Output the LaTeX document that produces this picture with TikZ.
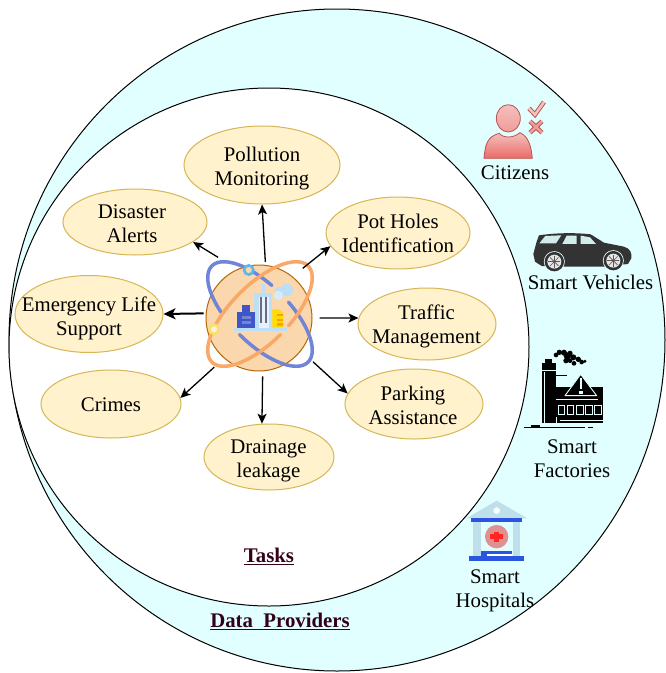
\documentclass[tikz,border=0pt]{standalone}
\usepackage{fontspec}
\setmainfont{Liberation Serif}
\usetikzlibrary{shapes.geometric,arrows.meta}
\definecolor{ringfill}{HTML}{E1FFFF}
\definecolor{taskfill}{HTML}{FFF2CC}
\definecolor{taskline}{HTML}{D6B656}
\definecolor{hubfill}{HTML}{FAD7AC}
\definecolor{hubline}{HTML}{B46504}
\definecolor{orbitblue}{HTML}{7084D8}
\definecolor{orbitorange}{HTML}{F9A868}
\definecolor{headtext}{HTML}{33001A}
\definecolor{pale}{HTML}{BCDFF5}
\definecolor{bldblue}{HTML}{3F55C8}
\definecolor{redline}{HTML}{B85450}
\definecolor{hospblue}{HTML}{2A55E0}
\definecolor{hosppale}{HTML}{BFE0EA}
\definecolor{ringblue}{HTML}{5CB8EA}
\definecolor{ringyellow}{HTML}{F8E26A}
\definecolor{bardark}{HTML}{6D6A80}
\definecolor{bodytop}{HTML}{F5C0BE}
\definecolor{bodybot}{HTML}{EA6B66}
\definecolor{headbot}{HTML}{EE9C9A}
\tikzset{
  ring/.style={ellipse,draw=black,line width=1pt,inner sep=0pt},
  taskshape/.style={ellipse,draw=taskline,fill=taskfill,line width=1pt,inner sep=0pt},
  lbl/.style={align=center,inner sep=0pt,font=\fontsize{20.8}{24}\selectfont},
  headlbl/.style={inner sep=0pt,text=headtext,font=\fontsize{20.8}{24}\selectfont\bfseries},
  arr/.style={-{Stealth[length=10pt,width=9pt,inset=2.5pt]},line width=1.3pt},
  arrbold/.style={-{Stealth[length=12pt,width=11pt,inset=3pt]},line width=2pt},
}
\newcommand{\tasknode}[7][]{%
  \node[taskshape,minimum width=#5pt,minimum height=#6pt] (#2) at (#3,#4) {};
  \node[lbl,#1] (#2-text) at (#2) {#7};}
\begin{document}
\begin{tikzpicture}[x=1pt,y=-1pt]
\useasboundingbox (0,0) rectangle (665,673);
\fill[white] (0,0) rectangle (665,673);
\node[ring,fill=ringfill,minimum width=656pt,minimum height=662pt] (outer) at (337,340) {};
\node[ring,fill=white,minimum width=520pt,minimum height=518pt] (inner) at (269,347) {};

\tasknode[yshift=-4pt]{pollution}{262}{165}{156}{78}{Pollution\\Monitoring}
\tasknode[xshift=-3pt,yshift=-2pt]{disaster}{135}{222}{144}{66}{Disaster\\Alerts}
\tasknode[yshift=-.5pt]{potholes}{398}{233}{144}{72}{Pot Holes\\Identification}
\tasknode[yshift=-4pt]{emergency}{89}{314}{148}{77}{Emergency Life\\Support}
\tasknode[xshift=-.5pt,yshift=-2pt]{traffic}{427}{324}{138}{72}{Traffic\\Management}
\tasknode[yshift=-1pt]{crimes}{111}{404}{140}{68}{Crimes}
\tasknode[xshift=-1pt,yshift=-1pt]{parking}{414}{404}{138}{70}{Parking\\Assistance}
\tasknode[xshift=-.5pt,yshift=-4pt]{drainage}{269}{457}{130}{66}{Drainage\\leakage}

\node[circle,draw=hubline,fill=hubfill,line width=1pt,minimum size=106pt,inner sep=0pt] (hub) at (259,318) {};

% orbits
\draw[orbitblue,line width=3.5pt,line cap=round] plot[domain=100:245,samples=50,variable=\t]
  ({260+.707*(68*cos(\t)+29*sin(\t))},{314+.707*(68*cos(\t)-29*sin(\t))});
\draw[orbitblue,line width=3.5pt,line cap=round] plot[domain=270:440,samples=60,variable=\t]
  ({260+.707*(68*cos(\t)+29*sin(\t))},{314+.707*(68*cos(\t)-29*sin(\t))});
\draw[orbitorange,line width=3.5pt,line cap=round] plot[domain=90:440,samples=110,variable=\t]
  ({260+.707*(68*cos(\t)+29*sin(\t))},{314+.707*(-68*cos(\t)+29*sin(\t))});
\draw[line width=2.6pt,draw=ringblue,fill=hubfill] (248.7,270) circle[radius=4.6pt];
\draw[line width=2.6pt,draw=ringyellow,fill=hubfill!40!white] (214,329.3) circle[radius=4.6pt];

% city icon (crop coordinates)
\begin{scope}[shift={(190,250)},x=.3333pt,y=-.3333pt]
  \fill[pale] (216,102) rectangle (224,128);
  \fill[pale] (193,128) rectangle (247,233);
  \fill[pale!40!white] (207,140) rectangle (236,233);
  \fill[bardark] (210,142) rectangle (217,220);
  \fill[bardark] (224,142) rectangle (232,220);
  \fill[pale] (290,120) circle[radius=6.3pt];
  \fill[pale] (268,124) circle[radius=4.5pt];
  \fill[pale!60!white] (265,136) circle[radius=4.5pt];
  \fill[bldblue] (155,165) rectangle (180,187);
  \fill[bldblue] (142,187) rectangle (195,233);
  \fill[orbitblue] (155,198) rectangle (182,206);
  \fill[orbitblue] (155,214) rectangle (182,222);
  \fill[yellow!80!orange] (247,178) -- (268,178) -- (280,190) -- (280,233) -- (247,233) -- cycle;
  \fill[orange!75!yellow] (260,192) rectangle (280,199);
  \fill[orange!75!yellow] (260,206) rectangle (280,213);
  \fill[orange!75!yellow] (260,220) rectangle (280,227);
  \fill[pale] (132,233) rectangle (290,243);
\end{scope}

% connectors
\draw[arr,shorten <=3pt] (hub.83.5) -- (pollution.south);
\draw[arr,shorten <=22.5pt] (hub.114.6) -- (disaster.-19);
\draw[arr,shorten <=13pt] (hub.51.6) -- (potholes.191);
\draw[arrbold,shorten <=2pt] (hub.175.7) -- (emergency.east);
\draw[arr,shorten <=7pt] (hub.east) -- (traffic.175.2);
\draw[arr,shorten <=13pt] (hub.229.5) -- (crimes.5.6);
\draw[arr,shorten <=16pt] (hub.-38.4) -- (parking.171);
\draw[arr,shorten <=5pt] (hub.-86.8) -- (drainage.102);

% citizen icon
\begin{scope}[shift={(470,90)},x=.3333pt,y=-.3333pt]
  \path[draw=redline,line width=.8pt,top color=bodytop,bottom color=bodybot]
    (42,205) .. controls (46,165) and (50,140) .. (88,130)
    .. controls (100,145) and (130,145) .. (150,128)
    .. controls (175,140) and (183,165) .. (187,205) -- cycle;
  \path[draw=redline,line width=.8pt,top color=bodytop,bottom color=headbot]
    (115,85) circle[x radius=36,y radius=41];
  \draw[redline,line width=4.5pt] (177,55) -- (195,74) -- (222,36);
  \draw[bodytop,line width=2.6pt] (177,55) -- (195,74) -- (222,36);
  \draw[redline,line width=4.5pt] (180,94) -- (216,128) (216,94) -- (180,128);
  \draw[headbot,line width=2.6pt] (180,94) -- (216,128) (216,94) -- (180,128);
\end{scope}
\node[lbl] (citizens) at (515,172.5) {Citizens};

% car icon
\begin{scope}[shift={(470,90)},x=.3333pt,y=-.3333pt]
  \fill[black!80] (190,492) -- (200,455) -- (207,436) .. controls (260,428) and (320,428) .. (362,433)
    -- (402,458) -- (462,470) .. controls (482,476) and (486,490) .. (484,505)
    -- (474,522) -- (400,530) -- (285,530) -- (215,528) -- (195,515) -- cycle;
  \fill[ringfill!85!gray] (208,460) -- (258,460) -- (274,436) -- (226,438) -- cycle;
  \fill[ringfill!85!gray] (277,462) -- (320,462) -- (320,437) -- (290,437) -- cycle;
  \fill[ringfill!85!gray] (332,462) -- (378,462) -- (360,442) -- (332,437) -- cycle;
  \foreach \cx/\cy in {253/515,430/512}{
    \fill[ringfill] (\cx,\cy) circle[radius=10.5pt];
    \fill[black!80] (\cx,\cy) circle[radius=9.7pt];
    \fill[white!80!gray] (\cx,\cy) circle[radius=7pt];
    \foreach \a in {0,45,...,315}
      \draw[black!65,line width=.6pt] (\cx,\cy) -- ++(\a:18);
    \fill[black!65] (\cx,\cy) circle[radius=1.5pt];
  }
\end{scope}
\node[lbl] (vehicles) at (590.5,282.5) {Smart Vehicles};

% factory icon
\begin{scope}[shift={(450,340)},x=.3333pt,y=-.3333pt]
  \fill[black] (285,58) rectangle (305,68);
  \fill[black] (275,70) rectangle (318,250);
  \fill[black] (318,140) rectangle (458,250);
  \draw[ringfill,line width=.7pt] (283,95) -- (283,250);
  \draw[ringfill,line width=.7pt] (275,92) -- (318,92);
  \draw[black,line width=.7pt] (318,107) -- (352,107);
  \draw[ringfill,line width=.9pt,fill=black,line join=round] (345,167) -- (392,103) -- (440,167) -- cycle;
  \fill[ringfill] (389,115) rectangle (396,147);
  \fill[ringfill] (387,152) rectangle (398,162);
  \draw[ringfill,line width=.9pt] (318,178) -- (445,178);
  \foreach \wx in {325,352,380,407,434}
    \draw[ringfill,line width=.9pt] (\wx,195) rectangle ++(19,27);
  \draw[ringfill,line width=.9pt] (318,232) -- (318,250);
  \draw[ringfill,line width=.9pt] (330,240) -- (458,240);
  \draw[black,line width=.7pt] (222,261) -- (405,261) (415,261) -- (428,261);
  \draw[black,line width=1.3pt] (242,258) -- (270,258) (310,262) -- (365,262);
  \foreach \sx/\sy/\sr in {318/45/7,328/37/8,342/38/9,352/48/11,348/62/8,360/40/8,370/52/9,372/70/7,385/58/8,395/66/7,405/64/5,360/62/7}
    \fill[black] (\sx,\sy) circle[radius=\sr*.3333pt];
\end{scope}
\node[lbl] (factories) at (572,458.5) {Smart\\Factories};

% hospital icon
\begin{scope}[shift={(450,340)},x=.3333pt,y=-.3333pt]
  \fill[hosppale] (50,535) -- (140,482) -- (232,535) -- cycle;
  \fill[ringfill!40!white] (140,512) circle[radius=3.4pt];
  \fill[hosppale] (70,547) rectangle (92,648);
  \fill[hosppale] (188,547) rectangle (210,648);
  \fill[hospblue] (63,535) rectangle (216,547);
  \fill[red!50!black!25!pink] (140,590) circle[radius=11.7pt];
  \fill[red!80!pink] (120,583) rectangle (158,597);
  \fill[red!80!pink] (133,575) rectangle (147,607);
  \fill[hospblue] (92,632) rectangle (187,642);
  \fill[hospblue] (92,642) rectangle (110,648);
  \fill[white] (110,643) rectangle (187,648);
  \fill[hospblue] (57,648) rectangle (222,662);
\end{scope}
\node[lbl] (hospitals) at (495,591) {Smart\\Hospitals};

\node[headlbl] (tasks) at (269,556) {\underline{Tasks}};
\node[headlbl] (providers) at (280,621) {\underline{Data\ \ Providers}};
\end{tikzpicture}
\end{document}
